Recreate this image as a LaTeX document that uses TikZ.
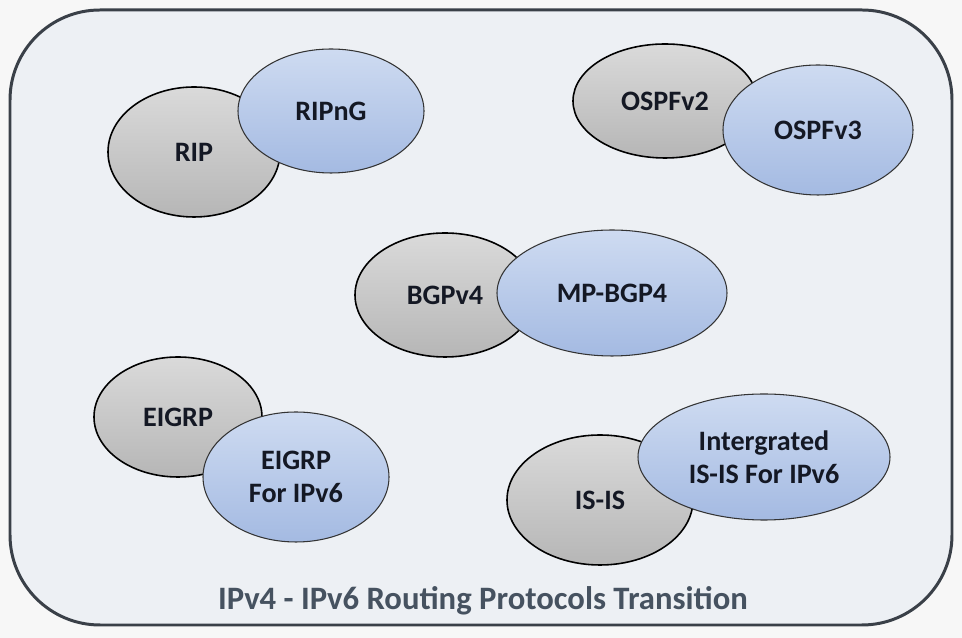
\documentclass[tikz,border=0pt]{standalone}
\usepackage{fontspec}
\setmainfont{Carlito}
\usetikzlibrary{shapes.geometric}
\definecolor{panelbg}{RGB}{237,240,244}
\definecolor{panelline}{RGB}{58,64,72}
\definecolor{grayhi}{RGB}{218,218,218}
\definecolor{graylo}{RGB}{182,182,182}
\definecolor{bluehi}{RGB}{206,219,241}
\definecolor{bluelo}{RGB}{164,186,226}
\definecolor{labeltext}{RGB}{20,24,36}
\definecolor{titletext}{RGB}{70,82,96}
\begin{document}
\begin{tikzpicture}[
    proto/.style={ellipse, inner sep=0pt, align=center, text=labeltext,
      font=\fontsize{16}{19}\selectfont\bfseries},
    oldproto/.style={proto, draw=black, line width=0.9pt, top color=grayhi, bottom color=graylo},
    newproto/.style={proto, draw=black!80, line width=0.6pt, top color=bluehi, bottom color=bluelo}]
      \useasboundingbox (0,0) rectangle (19.24,12.76);
      \fill[white!97!black] (0,0) rectangle (19.24,12.76);
      \filldraw[fill=panelbg, draw=panelline, line width=1.7pt, rounded corners=1.8cm]
        (0.2,0.26) rectangle (19.04,12.56);
      % IPv4 protocols
      \node[oldproto, minimum width=3.44cm, minimum height=2.6cm] (rip) at (3.88,9.72) {RIP};
      \node[oldproto, minimum width=3.68cm, minimum height=2.28cm] (ospf2) at (13.3,10.74) {OSPFv2};
      \node[oldproto, minimum width=3.6cm, minimum height=2.48cm] (bgp4) at (8.9,6.86) {BGPv4};
      \node[oldproto, minimum width=3.36cm, minimum height=2.4cm] (eigrp) at (3.56,4.42) {EIGRP};
      \node[oldproto, minimum width=3.72cm, minimum height=2.6cm] (isis) at (12,2.76) {IS-IS};
      % IPv6 protocols
      \node[newproto, minimum width=3.72cm, minimum height=2.48cm] (ripng) at (6.62,10.54) {RIPnG};
      \node[newproto, minimum width=3.8cm, minimum height=2.6cm] (ospf3) at (16.36,10.16) {OSPFv3};
      \node[newproto, minimum width=4.6cm, minimum height=2.52cm] (mpbgp) at (12.24,6.9) {MP-BGP4};
      \node[newproto, minimum width=3.72cm, minimum height=2.6cm] (eigrp6) at (5.92,3.22) {EIGRP\\For IPv6};
      \node[newproto, minimum width=5.04cm, minimum height=2.52cm] (isis6) at (15.28,3.62) {Intergrated\\IS-IS For IPv6};
      \node[text=titletext, font=\fontsize{18.6}{22}\selectfont\bfseries] (title) at (9.66,0.74)
        {IPv4 - IPv6 Routing Protocols Transition};
    \end{tikzpicture}
\end{document}
